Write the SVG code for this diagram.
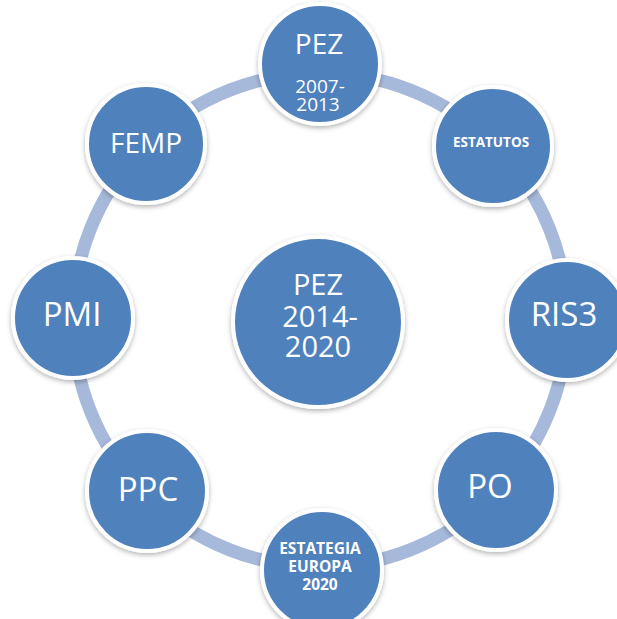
<svg xmlns="http://www.w3.org/2000/svg" width="617" height="619" viewBox="0 0 617 619">
  <defs>
    <filter id="sh" x="-20%" y="-20%" width="140%" height="140%">
      <feDropShadow dx="0" dy="2" stdDeviation="2.5" flood-color="#000" flood-opacity="0.3"/>
    </filter>
  </defs>
  <style>
    .node { fill: #4F81BD; stroke: #FFFFFF; stroke-width: 4; filter: url(#sh); }
    .t { fill: #FFFFFF; font-family: "Open Sans", "Liberation Sans", sans-serif; text-anchor: middle; }
    .big { font-size: 33px; }
    .mid { font-size: 28px; }
    .ctr { font-size: 29px; }
    .sm { font-size: 19px; }
    .xs { font-size: 13.5px; font-weight: bold; }
    .eu { font-size: 15.5px; font-weight: bold; }
  </style>
  <rect width="617" height="619" fill="#FFFFFF"/>
  <g id="connectors">
    <circle cx="320" cy="320" r="247" fill="none" stroke="#A7B9DA" stroke-width="13"/>
  </g>
  <g id="center">
    <circle class="node" cx="318" cy="322" r="85"/>
    <text class="t ctr" x="318" y="295">PEZ</text>
    <text class="t ctr" x="320" y="327">2014-</text>
    <text class="t ctr" x="318" y="357">2020</text>
  </g>
  <g id="pez-2007">
    <circle class="node" cx="320" cy="64" r="60"/>
    <text class="t mid" x="319" y="54">PEZ</text>
    <text class="t sm" x="320" y="93">2007-</text>
    <text class="t sm" x="318" y="111">2013</text>
  </g>
  <g id="estatutos">
    <circle class="node" cx="493" cy="146" r="59"/>
    <text class="t xs" x="491" y="147">ESTATUTOS</text>
  </g>
  <g id="ris3">
    <circle class="node" cx="567" cy="320" r="60"/>
    <text class="t big" x="564" y="326">RIS3</text>
  </g>
  <g id="po">
    <circle class="node" cx="496" cy="490" r="60"/>
    <text class="t big" x="490" y="498">PO</text>
  </g>
  <g id="estrategia">
    <circle class="node" cx="322" cy="570" r="60"/>
    <text class="t eu" x="320" y="554">ESTATEGIA</text>
    <text class="t eu" x="320" y="572">EUROPA</text>
    <text class="t eu" x="320" y="590">2020</text>
  </g>
  <g id="ppc">
    <circle class="node" cx="147" cy="491" r="60"/>
    <text class="t big" x="148" y="501">PPC</text>
  </g>
  <g id="pmi">
    <circle class="node" cx="73" cy="318" r="60"/>
    <text class="t big" x="72" y="326">PMI</text>
  </g>
  <g id="femp">
    <circle class="node" cx="146" cy="144" r="59"/>
    <text class="t mid" x="146" y="153">FEMP</text>
  </g>
</svg>
